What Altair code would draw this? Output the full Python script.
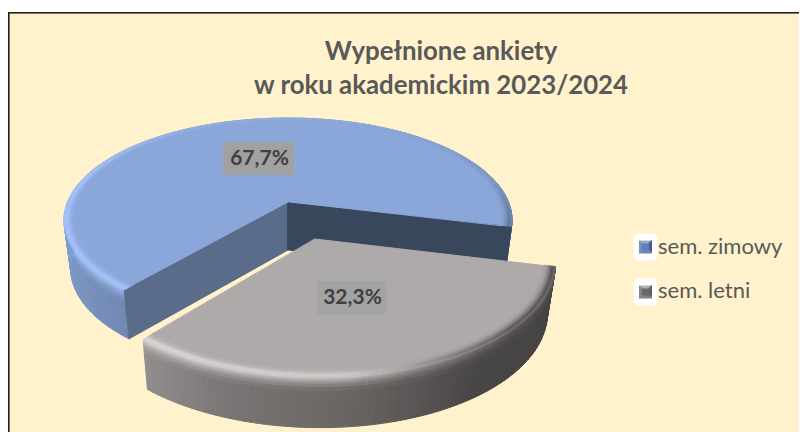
import math
import altair as alt
import pandas as pd

# ---- values
categories = ["sem. zimowy", "sem. letni"]
shares = [67.7, 32.3]
labels = ["67,7%", "32,3%"]
title_lines = ["Wypełnione ankiety", "w roku akademickim 2023/2024"]
start_angle = 130.0     # first slice begins here, degrees clockwise from +x
explode = 0.37          # second slice pulled out by this share of the radius

BG = "#fff2cc"
TXT = "#595959"
TOP = ["#8ba6d8", "#aeaaa9"]
WALLS = ["#5b6b8a", "#38475c"]
# colour stops over angle: (degree, colour)
HL = [
    [(130, "#a6c4fb"), (195, "#a6c4fb"), (235, "#93b0e2"), (300, "#8ba6d8"), (345, "#7f98c6"), (374, "#5f7799")],
    [(14, "#565353"), (45, "#5e5b5a"), (65, "#8a8786"), (85, "#cfcdcc"), (130, "#dbd9d8")],
]
SIDE = [
    [(130, "#7189b2"), (150, "#7a93c0"), (185, "#83a2d6"), (300, "#7f9dd0"), (374, "#5f789f")],
    [(14, "#454242"), (55, "#484545"), (85, "#686563"), (110, "#797675"), (130, "#918f8e")],
]

# ---- projection of the tilted disc onto the page
APEX = (288.0, 202.0)
F, G, K = 220.5, 98.8, 0.1765


def project(X, Y, z=0.0):
    w = 1 - K * Y
    px = F * X / w
    py = G * Y / w
    if z:
        s = 1 - 0.03 * z
        h = 48 * z / (1 - 0.1 * Y)
        px *= s
        py = py * s + h
    return APEX[0] + px, APEX[1] + py


def hx(c):
    return [int(c[i:i + 2], 16) for i in (1, 3, 5)]


def mix(a, b, t):
    return "#%02x%02x%02x" % tuple(round(p + (q - p) * t) for p, q in zip(hx(a), hx(b)))


def stop(stops, d):
    if d <= stops[0][0]:
        return stops[0][1]
    for (a, ca), (b, cb) in zip(stops, stops[1:]):
        if d <= b:
            return mix(ca, cb, (d - a) / (b - a))
    return stops[-1][1]


rows = []
face = [0]


def poly(points, colour):
    for i, (x, y) in enumerate(points):
        rows.append({"px": round(x, 2), "py": round(y, 2), "face": face[0], "i": i, "c": colour})
    face[0] += 1


def add_rect(x0, y0, x1, y1, colour):
    poly([(x0, y0), (x1, y0), (x1, y1), (x0, y1)], colour)


add_rect(8, 13, 820, 445, BG)
add_rect(8, 12.5, 820, 13.1, "#222222")
add_rect(8, 12.5, 9.1, 445, "#222222")

spans = []
a0 = start_angle
for s in shares:
    a1 = a0 + s * 3.6
    spans.append((a0, a1))
    a0 = a1
spans[1] = (spans[1][0] - 360, spans[1][1] - 360)

STEP = 1.5
RINGS = [0.955, 0.968, 0.978, 0.986, 0.993, 1.0]
RING_MIX = [0.12, 0.4, 0.75, 1.0, 0.8]
SIDE_Z = [0.0, 0.03, 0.06, 0.1, 0.14, 0.2, 0.28, 1.0]

for k in range(2):
    a0, a1 = spans[k]
    mid = math.radians((a0 + a1) / 2)
    ox, oy = (explode * math.cos(mid), explode * math.sin(mid)) if k == 1 else (0.0, 0.0)
    n = int(round((a1 - a0) / STEP))
    angs = [a0 + (a1 - a0) * i / n for i in range(n + 1)]

    def pt(d, r=1.0, z=0.0):
        t = math.radians(d)
        return project(ox + r * math.cos(t), oy + r * math.sin(t), z)

    for d0, d1 in zip(angs, angs[1:]):
        dm = (d0 + d1) / 2
        base = stop(SIDE[k], dm)
        for j, (z0, z1) in enumerate(zip(SIDE_Z, SIDE_Z[1:])):
            last = j == len(SIDE_Z) - 2
            c = base if last else mix(stop(HL[k], dm), base, (j + 0.5) / (len(SIDE_Z) - 2))
            poly([pt(d0, 1, z0), pt(d1, 1, z0), pt(d1, 1, z1), pt(d0, 1, z1)], c)
    if k == 0:
        poly([pt(a0, 0, 0), pt(a0, 1, 0), pt(a0, 1, 1), pt(a0, 0, 1)], WALLS[0])
        poly([pt(a1, 0, 0), pt(a1, 1, 0), pt(a1, 1, 1), pt(a1, 0, 1)], WALLS[1])
    poly([pt(a0, 0)] + [pt(d, RINGS[0]) for d in angs], TOP[k])
    for d0, d1 in zip(angs, angs[1:]):
        dm = (d0 + d1) / 2
        for j, (r0, r1) in enumerate(zip(RINGS, RINGS[1:])):
            c = mix(TOP[k], stop(HL[k], dm), RING_MIX[j])
            poly([pt(d0, r0), pt(d1, r0), pt(d1, r1), pt(d0, r1)], c)

# label boxes
add_rect(223.5, 142.5, 293.5, 174.5, "#a1a1a1")
add_rect(317.5, 281.5, 385.5, 313.5, "#a3a3a1")

# legend keys: top, right, bottom, left, middle
KEYS = [
    ((234, 260), ["#a0a8b8", "#505f80", "#7a88a8", "#8090b0", "#5a7fd0"]),
    ((279, 305), ["#b0b0b0", "#606060", "#808080", "#8a8a8a", "#6a6a6a"]),
]
for (y0, y1), (c_t, c_r, c_b, c_l, c_m) in KEYS:
    x0, x1, e = 634, 657, 3
    poly([(x0 + e, y0), (x1 - e, y0), (x1, y0 + e), (x1, y1 - e), (x1 - e, y1), (x0 + e, y1), (x0, y1 - e), (x0, y0 + e)], "#ffffff")
    cx, cy = 645.5, (y0 + y1) / 2
    q, p = 6.0, 3.0
    poly([(cx - q, cy - q), (cx + q, cy - q), (cx + p, cy - p), (cx - p, cy - p)], c_t)
    poly([(cx + q, cy - q), (cx + q, cy + q), (cx + p, cy + p), (cx + p, cy - p)], c_r)
    poly([(cx + q, cy + q), (cx - q, cy + q), (cx - p, cy + p), (cx + p, cy + p)], c_b)
    poly([(cx - q, cy + q), (cx - q, cy - q), (cx - p, cy - p), (cx - p, cy + p)], c_l)
    poly([(cx - p, cy - p), (cx + p, cy - p), (cx + p, cy + p), (cx - p, cy + p)], c_m)

df = pd.DataFrame(rows)

W, H = 791, 424
XS = alt.Scale(domain=[8, 8 + W])
YS = alt.Scale(domain=[8 + H, 8])

polys = alt.Chart(df).mark_line(strokeWidth=1.0, strokeCap="round", strokeJoin="round", clip=True, interpolate="linear-closed").encode(
    x=alt.X("px:Q", scale=XS, axis=None),
    y=alt.Y("py:Q", scale=YS, axis=None),
    order="i:Q", detail="face:N",
    fill=alt.Fill("c:N", scale=None), stroke=alt.Stroke("c:N", scale=None),
)

bold = pd.DataFrame([
    {"x": 441, "y": 52, "t": title_lines[0], "s": 25.8, "c": TXT},
    {"x": 441, "y": 86, "t": title_lines[1], "s": 25.8, "c": TXT},
    {"x": 259.5, "y": 159, "t": labels[0], "s": 21, "c": "#404040"},
    {"x": 352.5, "y": 298, "t": labels[1], "s": 21, "c": "#404040"},
])
norm = pd.DataFrame([
    {"x": 658, "y": 247, "t": categories[0], "s": 22, "c": TXT},
    {"x": 658, "y": 291, "t": categories[1], "s": 22, "c": TXT},
])
X2 = alt.X("x:Q", scale=XS, axis=None)
Y2 = alt.Y("y:Q", scale=YS, axis=None)
t_bold = alt.Chart(bold).mark_text(font="Lato", fontWeight="bold", align="center", baseline="middle").encode(
    x=X2, y=Y2, text="t:N", size=alt.Size("s:Q", scale=None), color=alt.Color("c:N", scale=None))
t_norm = alt.Chart(norm).mark_text(font="Lato", align="left", baseline="middle").encode(
    x=X2, y=Y2, text="t:N", size=alt.Size("s:Q", scale=None), color=alt.Color("c:N", scale=None))

chart = alt.layer(polys, t_bold, t_norm).properties(
    width=W, height=H, padding=0, background="#ffffff",
    autosize=alt.AutoSizeParams(type="none"),
).configure_view(stroke=None)

chart.save("out.html", embed_options={"renderer": "svg", "actions": False})
